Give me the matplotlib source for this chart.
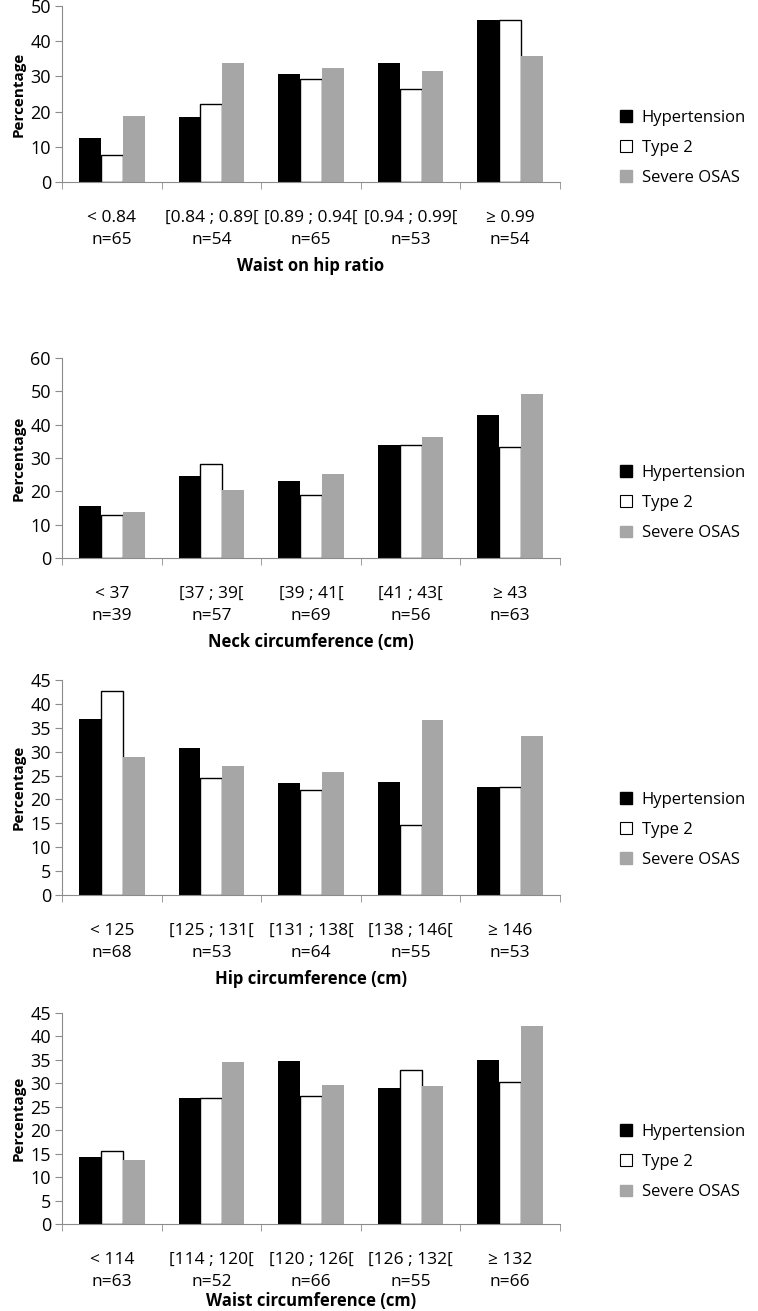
import matplotlib.pyplot as plt
from matplotlib.patches import Patch

plt.rcParams['font.family'] = ['Open Sans', 'DejaVu Sans']

series_names = ["Hypertension", "Type 2", "Severe OSAS"]

# panel 1 - waist on hip ratio
whr_labels = ["< 0.84", "[0.84 ; 0.89[", "[0.89 ; 0.94[", "[0.94 ; 0.99[", "≥ 0.99"]
whr_n = [65, 54, 65, 53, 54]
whr_hyp = [12.6, 18.5, 30.8, 33.9, 46.1]
whr_t2 = [7.7, 22.3, 29.4, 26.4, 46.1]
whr_osas = [18.7, 33.9, 32.4, 31.5, 35.8]

# panel 2 - neck circumference
neck_labels = ["< 37", "[37 ; 39[", "[39 ; 41[", "[41 ; 43[", "≥ 43"]
neck_n = [39, 57, 69, 56, 63]
neck_hyp = [15.7, 24.5, 23.1, 33.8, 42.9]
neck_t2 = [12.8, 28.1, 19.0, 34.0, 33.2]
neck_osas = [13.8, 20.4, 25.1, 36.3, 49.2]

# panel 3 - hip circumference
hip_labels = ["< 125", "[125 ; 131[", "[131 ; 138[", "[138 ; 146[", "≥ 146"]
hip_n = [68, 53, 64, 55, 53]
hip_hyp = [36.8, 30.8, 23.4, 23.6, 22.6]
hip_t2 = [42.7, 24.5, 22.0, 14.7, 22.6]
hip_osas = [28.8, 26.9, 25.7, 36.6, 33.3]

# panel 4 - waist circumference
waist_labels = ["< 114", "[114 ; 120[", "[120 ; 126[", "[126 ; 132[", "≥ 132"]
waist_n = [63, 52, 66, 55, 66]
waist_hyp = [14.2, 26.9, 34.8, 29.1, 35.0]
waist_t2 = [15.6, 26.9, 27.3, 32.8, 30.2]
waist_osas = [13.6, 34.6, 29.7, 29.5, 42.3]

W, H = 758, 1311
AXIS_GREY = "#8c8c8c"
BAR_W = 0.22


def draw_panel(top_px, bottom_px, labels, counts, hyp, t2, osas, ymax, ystep, xlabel, legend_y, xlabel_pad=6):
    ax = plt.gcf().add_axes([62 / W, 1 - bottom_px / H, (560 - 62) / W, (bottom_px - top_px) / H])
    x = list(range(len(labels)))
    ax.bar([i - BAR_W for i in x], hyp, BAR_W, color="black", label=series_names[0])
    ax.bar(x, t2, BAR_W, color="white", edgecolor="black", linewidth=1.0, label=series_names[1])
    ax.bar([i + BAR_W for i in x], osas, BAR_W, color="#a6a6a6", label=series_names[2])

    ax.set_xlim(-0.5, len(labels) - 0.5)
    ax.set_ylim(0, ymax)
    ax.set_yticks(range(0, ymax + 1, ystep))
    ax.set_xticks(x)
    ax.set_xticklabels([f"{lab}\nn={n}" for lab, n in zip(labels, counts)], fontsize=12.5, linespacing=1.55)
    ax.set_xticks([i - 0.5 for i in range(len(labels) + 1)], minor=True)
    ax.tick_params(axis="x", which="major", length=0, pad=20)
    ax.tick_params(axis="x", which="minor", length=5, color=AXIS_GREY, direction="out")
    ax.tick_params(axis="y", length=5, color=AXIS_GREY, labelsize=13, pad=3)

    ax.spines[["top", "right"]].set_visible(False)
    ax.spines[["left", "bottom"]].set_color(AXIS_GREY)
    ax.set_ylabel("Percentage", fontweight="bold", fontsize=11, labelpad=3)
    ax.set_xlabel(xlabel, fontweight="bold", fontsize=12, labelpad=xlabel_pad)

    handles = [Patch(facecolor="black", edgecolor="black"),
               Patch(facecolor="white", edgecolor="black", linewidth=0.8),
               Patch(facecolor="#a6a6a6", edgecolor="#a6a6a6")]
    ax.legend(handles, series_names, loc="center left", frameon=False, fontsize=12,
              bbox_to_anchor=(605 / W, 1 - legend_y / H), bbox_transform=plt.gcf().transFigure,
              handlelength=0.7, handleheight=0.7, handletextpad=0.6, labelspacing=0.85)
    return ax


fig = plt.figure(figsize=(W / 100, H / 100), dpi=100)

draw_panel(6, 182, whr_labels, whr_n, whr_hyp, whr_t2, whr_osas, 50, 10, "Waist on hip ratio", 148)
draw_panel(358, 558, neck_labels, neck_n, neck_hyp, neck_t2, neck_osas, 60, 10, "Neck circumference (cm)", 503)
draw_panel(680, 895, hip_labels, hip_n, hip_hyp, hip_t2, hip_osas, 45, 5, "Hip circumference (cm)", 830)
draw_panel(1013, 1224, waist_labels, waist_n, waist_hyp, waist_t2, waist_osas, 45, 5, "Waist circumference (cm)", 1162,
           xlabel_pad=1)

fig.savefig("out.png", dpi=100)
